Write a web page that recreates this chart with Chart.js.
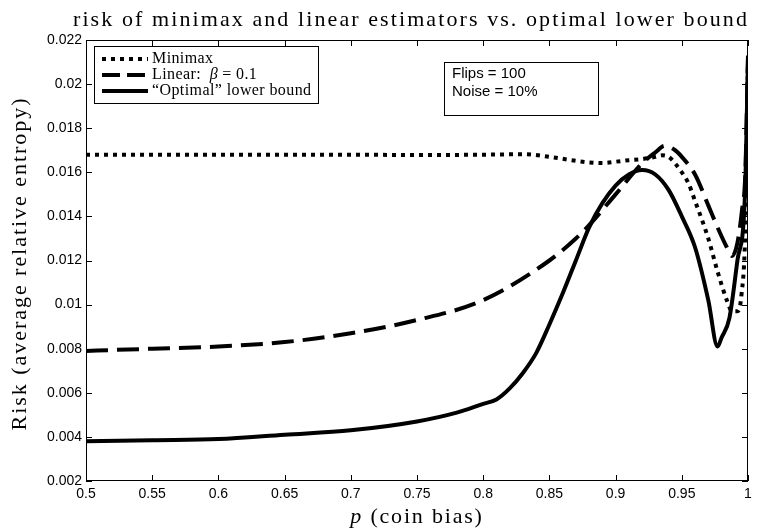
<!DOCTYPE html>
<html>
<head>
<meta charset="utf-8">
<script src="https://cdn.jsdelivr.net/npm/chart.js@4.4.1/dist/chart.umd.min.js"></script>
<style>
  html, body { margin: 0; padding: 0; background: #fff; }
  #wrap { width: 757px; height: 529px; }
</style>
</head>
<body>
<div id="wrap"><canvas id="riskChart" width="757" height="529"></canvas></div>
<script>
// values
const pMinimax = [0.5, 0.55, 0.6, 0.65, 0.7, 0.75, 0.8, 0.83, 0.85, 0.87, 0.88, 0.89, 0.9, 0.91, 0.92, 0.93, 0.935, 0.94, 0.945, 0.95, 0.955, 0.96, 0.97, 0.977, 0.984, 0.988, 0.992, 0.995, 0.998, 1.0];
const riskMinimax = [0.0168, 0.0168, 0.0168, 0.0168, 0.0168, 0.01678, 0.0168, 0.01682, 0.0167, 0.01652, 0.01645, 0.01642, 0.01648, 0.01655, 0.0166, 0.0167, 0.01677, 0.0167, 0.0164, 0.0160, 0.0155, 0.0147, 0.0130, 0.0115, 0.0102, 0.0097, 0.0097, 0.0104, 0.0135, 0.0210];

const pLinear = [0.5, 0.55, 0.6, 0.65, 0.7, 0.75, 0.8, 0.85, 0.87, 0.88, 0.9, 0.92, 0.93, 0.937, 0.945, 0.95, 0.96, 0.97, 0.977, 0.984, 0.988, 0.992, 0.9955, 0.998, 1.0];
const riskLinear = [0.0079, 0.0080, 0.0081, 0.0083, 0.0087, 0.0093, 0.0102, 0.0120, 0.0130, 0.0136, 0.0150, 0.0164, 0.0169, 0.0172, 0.0170, 0.0167, 0.0159, 0.0145, 0.0135, 0.0126, 0.0122, 0.0128, 0.0143, 0.0160, 0.0213];

const pOptimal = [0.5, 0.55, 0.6, 0.65, 0.7, 0.75, 0.78, 0.8, 0.81, 0.82, 0.83, 0.84, 0.85, 0.86, 0.87, 0.88, 0.89, 0.9, 0.91, 0.92, 0.93, 0.94, 0.95, 0.96, 0.97, 0.977, 0.98, 0.986, 0.992, 0.9977, 1.0];
const riskOptimal = [0.0038, 0.00385, 0.0039, 0.0041, 0.0043, 0.0047, 0.0051, 0.0055, 0.0057, 0.0062, 0.0069, 0.0078, 0.0091, 0.0105, 0.0120, 0.0135, 0.0146, 0.0154, 0.0159, 0.0161, 0.0159, 0.0152, 0.0140, 0.0126, 0.0102, 0.0081, 0.0085, 0.0094, 0.0120, 0.0150, 0.0212];

const seriesNames = ['Minimax', 'Linear', 'Optimal'];

const SERIF = '"Liberation Serif", "DejaVu Serif", serif';
const SANS = '"Liberation Sans", Arial, sans-serif';

function toPoints(xs, ys) {
    return xs.map((p, i) => ({ x: p, y: ys[i] }));
}

const lineStyles = [
    { borderDash: [4, 5] },
    { borderDash: [22, 9] },
    { borderDash: [] }
];

const datasets = [
    toPoints(pMinimax, riskMinimax),
    toPoints(pLinear, riskLinear),
    toPoints(pOptimal, riskOptimal)
].map((data, i) => ({
    label: seriesNames[i],
    data,
    borderColor: '#000',
    borderWidth: 4,
    borderDash: lineStyles[i].borderDash,
    borderCapStyle: 'butt',
    pointRadius: 0,
    cubicInterpolationMode: 'monotone',
    fill: false
}));

// draw text spread so that it takes about `target` px (the original uses a wider TeX font)
function spreadText(ctx, text, x, y, target) {
    ctx.letterSpacing = '0px';
    const w = ctx.measureText(text).width;
    const n = [...text].length;
    const sp = Math.max(0, (target - w) / n);
    ctx.letterSpacing = sp + 'px';
    ctx.fillText(text, x, y);
    ctx.letterSpacing = '0px';
    return w + sp * n;
}

function measureSpread(ctx, text, sp) {
    ctx.letterSpacing = '0px';
    return ctx.measureText(text).width + sp * [...text].length;
}

// frame, inward ticks, legend, annotation and titles
const decorPlugin = {
    id: 'decor',
    afterDatasetsDraw(chart) {
        const { ctx, chartArea: a, scales: { x, y } } = chart;
        ctx.save();
        ctx.strokeStyle = '#000';
        ctx.lineWidth = 1;
        ctx.strokeRect(a.left + 0.5, a.top + 0.5, a.width - 1, a.height - 1);
        const tl = 6;
        ctx.beginPath();
        x.ticks.forEach(t => {
            const px = Math.round(x.getPixelForValue(t.value)) + 0.5;
            ctx.moveTo(px, a.bottom); ctx.lineTo(px, a.bottom - tl);
            ctx.moveTo(px, a.top); ctx.lineTo(px, a.top + tl);
        });
        y.ticks.forEach(t => {
            const py = Math.round(y.getPixelForValue(t.value)) + 0.5;
            ctx.moveTo(a.left, py); ctx.lineTo(a.left + tl, py);
            ctx.moveTo(a.right, py); ctx.lineTo(a.right - tl, py);
        });
        ctx.stroke();

        // legend
        const lx = a.left + 8, ly = a.top + 6, lw = 224, lh = 57;
        ctx.fillStyle = '#fff';
        ctx.fillRect(lx, ly, lw, lh);
        ctx.strokeRect(lx + 0.5, ly + 0.5, lw, lh);
        const rows = [ly + 13, ly + 29, ly + 45];
        ctx.textBaseline = 'middle';
        ctx.textAlign = 'left';
        chart.data.datasets.forEach((ds, i) => {
            ctx.save();
            ctx.lineWidth = 4;
            ctx.lineCap = 'butt';
            ctx.setLineDash(i === 1 ? [18, 7] : ds.borderDash);
            ctx.beginPath();
            ctx.moveTo(lx + 8, rows[i]);
            ctx.lineTo(lx + 54, rows[i]);
            ctx.stroke();
            ctx.restore();
        });
        ctx.fillStyle = '#000';
        const tx = lx + 58;
        const lsp = 0.4;
        ctx.font = '16px ' + SERIF;
        ctx.letterSpacing = lsp + 'px';
        ctx.fillText('Minimax', tx, rows[0]);
        ctx.fillText('Linear:', tx, rows[1]);
        let w = measureSpread(ctx, 'Linear:  ', lsp);
        ctx.font = 'italic 16px ' + SERIF;
        ctx.letterSpacing = '0px';
        ctx.fillText('\u03B2', tx + w, rows[1]);
        w += ctx.measureText('\u03B2').width;
        ctx.font = '16px ' + SERIF;
        ctx.letterSpacing = lsp + 'px';
        ctx.fillText(' = 0.1', tx + w, rows[1]);
        ctx.fillText('\u201COptimal\u201D lower bound', tx, rows[2]);
        ctx.letterSpacing = '0px';

        // annotation box
        const bx = 444, by = 62, bw = 154, bh = 53;
        ctx.fillStyle = '#fff';
        ctx.fillRect(bx, by, bw, bh);
        ctx.strokeRect(bx + 0.5, by + 0.5, bw, bh);
        ctx.fillStyle = '#000';
        ctx.font = '15px ' + SANS;
        ctx.fillText('Flips = 100', bx + 8, by + 12);
        ctx.fillText('Noise = 10%', bx + 8, by + 30);

        // title
        ctx.font = '22px ' + SERIF;
        spreadText(ctx, 'risk of minimax and linear estimators vs. optimal lower bound', 73, 20, 676);

        // x title: italic p + (coin bias)
        const cx = (a.left + a.right) / 2;
        const xsp = 1.8;
        ctx.font = 'italic 22px ' + SERIF;
        const pw = measureSpread(ctx, 'p', xsp);
        ctx.font = '22px ' + SERIF;
        const rest = ' (coin bias)';
        const rw = measureSpread(ctx, rest, xsp);
        const sx = cx - (pw + rw) / 2;
        ctx.font = 'italic 22px ' + SERIF;
        ctx.letterSpacing = xsp + 'px';
        ctx.fillText('p', sx, 517);
        ctx.font = '22px ' + SERIF;
        ctx.fillText(rest, sx + pw, 517);
        ctx.letterSpacing = '0px';

        // y title
        ctx.translate(20, (a.top + a.bottom) / 2);
        ctx.rotate(-Math.PI / 2);
        ctx.font = '22px ' + SERIF;
        const ytext = 'Risk (average relative entropy)';
        const yw = 334;
        spreadText(ctx, ytext, -yw / 2 - 3, 0, yw);
        ctx.restore();
    }
};

const ctx = document.getElementById('riskChart').getContext('2d');
new Chart(ctx, {
    type: 'line',
    data: { datasets },
    options: {
        responsive: false,
        animation: false,
        layout: { padding: { left: 6, right: 9, top: 40, bottom: 0 } },
        plugins: {
            legend: { display: false },
            tooltip: { enabled: false },
            title: { display: false }
        },
        scales: {
            x: {
                type: 'linear',
                min: 0.5,
                max: 1,
                grid: { display: false, drawTicks: false },
                border: { display: false },
                afterFit: scale => { scale.height = 48; },
                ticks: {
                    stepSize: 0.05,
                    padding: 5,
                    color: '#000',
                    maxRotation: 0,
                    autoSkip: false,
                    font: { family: SANS, size: 14 },
                    callback: v => Number(v.toFixed(2)).toString()
                }
            },
            y: {
                min: 0.002,
                max: 0.022,
                grid: { display: false, drawTicks: false },
                border: { display: false },
                afterFit: scale => { scale.width = 80; },
                ticks: {
                    stepSize: 0.002,
                    padding: 4,
                    color: '#000',
                    autoSkip: false,
                    font: { family: SANS, size: 14 },
                    callback: v => Number(v.toFixed(3)).toString()
                }
            }
        }
    },
    plugins: [decorPlugin]
});
</script>
</body>
</html>
